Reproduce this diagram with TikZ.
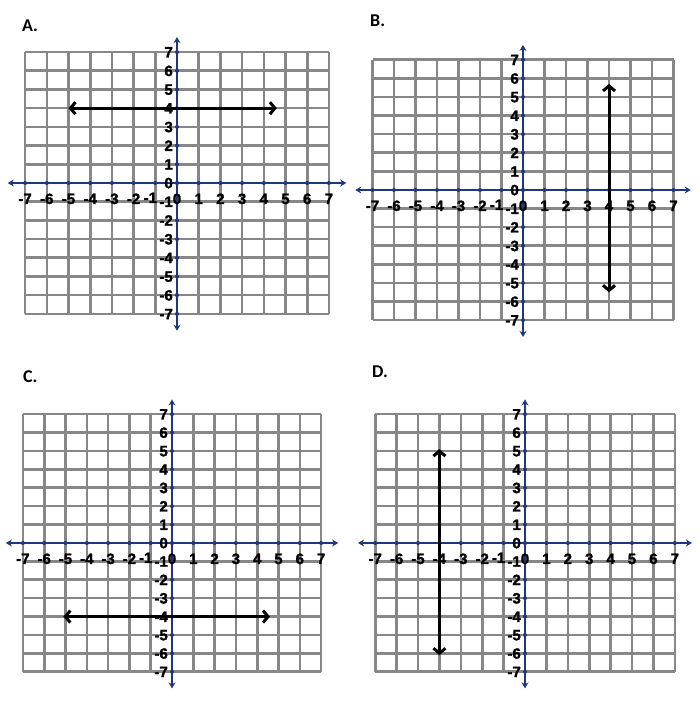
\documentclass[tikz,border=0pt]{standalone}
\usepackage{fontspec}
\setmainfont{Liberation Sans}
\newfontfamily\numfont{Liberation Sans}[BoldFeatures={FakeBold=1.6}]
\newfontfamily\panelfont{Carlito}
\usetikzlibrary{arrows.meta}
\definecolor{axisblue}{RGB}{30,55,125}
\definecolor{gridgray}{RGB}{135,135,135}
\tikzset{
  gridline/.style={gridgray, line width=2.6pt},
  axisline/.style={axisblue, line width=2pt, {Stealth[length=6pt,width=7pt]}-{Stealth[length=6pt,width=7pt]}},
  tickdot/.style={circle, fill=axisblue, inner sep=0pt, minimum size=4pt},
  numlbl/.style={font=\numfont\fontsize{15}{15}\selectfont\bfseries, inner sep=0pt},
  graphline/.style={black, line width=3pt, {Straight Barb[length=5pt,width=12pt]}-{Straight Barb[length=5pt,width=12pt]}},
  paneltitle/.style={font=\panelfont\fontsize{18}{18}\selectfont\bfseries, anchor=base west, inner sep=0pt},
}
% one coordinate plane, drawn in the current scope (unit = one grid square)
\newcommand{\coordplane}[1]{%
  \foreach \k in {-7,...,7} {
    \draw[gridline] (\k,-7) -- (\k,7);
    \draw[gridline] (-7,\k) -- (7,\k);
  }
  \coordinate (#1xl) at (-7.8,0);
  \coordinate (#1xr) at (7.8,0);
  \coordinate (#1yb) at (0,-7.9);
  \coordinate (#1yt) at (0,7.8);
  \draw[axisline] (#1xl) -- (#1xr);
  \draw[axisline] (#1yb) -- (#1yt);
  \foreach \k in {-7,...,7} {
    \node[tickdot] (#1dx\k) at (\k,0) {};
    \node[tickdot] (#1dy\k) at (0,\k) {};
    \node[numlbl, anchor=base east, xshift=-4pt, yshift=-5.3pt] (#1ny\k) at (0,\k) {\k};
  }
  \foreach \k in {-7,...,-2,0,1,...,7}
    \node[numlbl, anchor=base, yshift=-21pt] (#1nx\k) at (\k,0) {\k};
  \node[numlbl, anchor=base, xshift=-5pt, yshift=-20pt] (#1nxm) at (-1,0) {-1};
}

\begin{document}
\begin{tikzpicture}[x=1pt,y=1pt]
\useasboundingbox[fill=white] (0,0) rectangle (700,707);

% A: y = 4
\node[paneltitle] (titleA) at (22,675) {A.};
\begin{scope}[shift={(177,524)}, x=21.7pt, y=18.7pt]
\coordplane{A}
\coordinate (Ap) at (-5,4);
\coordinate (Aq) at (4.6,4);
\draw[graphline] (Ap) -- (Aq);
\end{scope}

% B: x = 4
\node[paneltitle] (titleB) at (370,680) {B.};
\begin{scope}[shift={(523,517)}, x=21.5pt, y=18.6pt]
\coordplane{B}
\coordinate (Bp) at (4,5.7);
\coordinate (Bq) at (4,-5.5);
\draw[graphline] (Bp) -- (Bq);
\end{scope}

% C: y = -4
\node[paneltitle] (titleC) at (23,324) {C.};
\begin{scope}[shift={(172,164)}, x=21.3pt, y=18.4pt]
\coordplane{C}
\coordinate (Cp) at (-5.1,-4);
\coordinate (Cq) at (4.6,-4);
\draw[graphline] (Cp) -- (Cq);
\end{scope}

% D: x = -4
\node[paneltitle] (titleD) at (372,329) {D.};
\begin{scope}[shift={(525,164)}, x=21.4pt, y=18.4pt]
\coordplane{D}
\coordinate (Dp) at (-4,5.1);
\coordinate (Dq) at (-4,-6.1);
\draw[graphline] (Dp) -- (Dq);
\end{scope}
\end{tikzpicture}
\end{document}
